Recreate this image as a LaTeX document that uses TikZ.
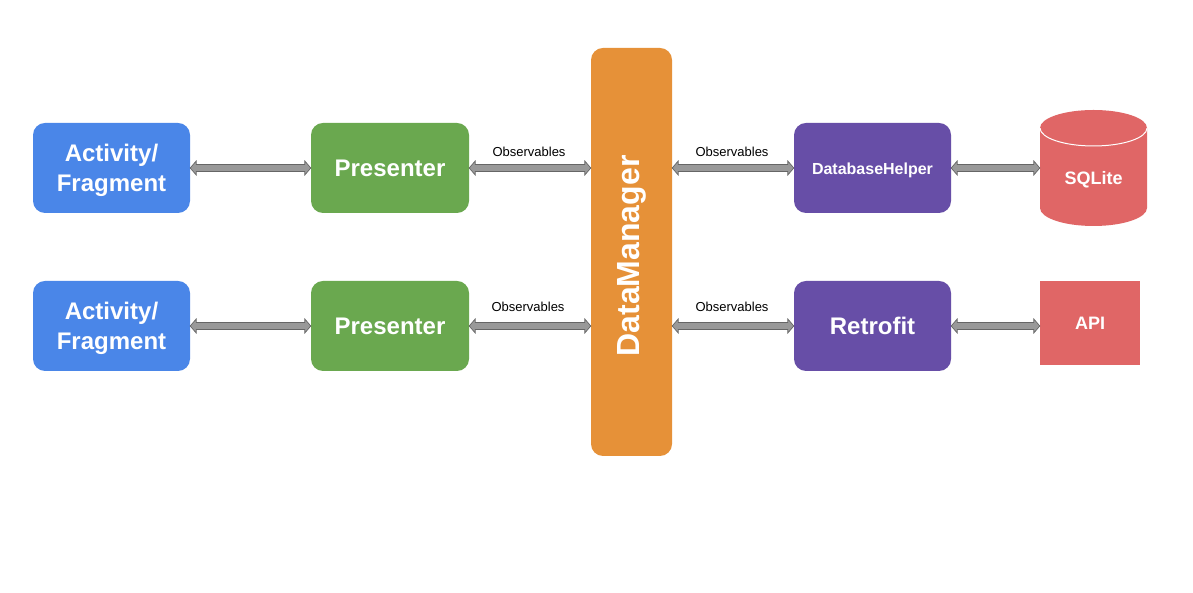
\documentclass[tikz,border=0pt]{standalone}
\usepackage{fontspec}
\setmainfont{Liberation Sans}
\usetikzlibrary{calc}
\definecolor{cblue}{HTML}{4A86E8}
\definecolor{cgreen}{HTML}{6AA84F}
\definecolor{corange}{HTML}{E69138}
\definecolor{cpurple}{HTML}{674EA7}
\definecolor{cred}{HTML}{E06666}
\definecolor{arrfill}{HTML}{999999}
\definecolor{arrdraw}{HTML}{666666}
\tikzset{
  box/.style={rounded corners=12pt, draw=none, inner sep=0pt, align=center, text=white,
    font=\fontsize{24}{28}\selectfont\bfseries},
  dbl/.style={fill=arrfill, draw=arrdraw, line width=0.7pt, line join=miter},
  obs/.style={font=\fontsize{13}{15}\selectfont, text=black, inner sep=0pt}
}
\newcommand\twolines[2]{\raisebox{-3pt}[\height][\depth]{\fontsize{24}{30}\selectfont\begin{tabular}{@{}c@{}}#1\\#2\end{tabular}}}
\newcommand\dblarrow[3]{%
  \path[dbl] let \p1=(#1.east), \p2=(#2.west), \p3=(#3.center) in
    (\x1,\y3) -- (\x1+6pt,\y3+7pt) -- (\x1+6pt,\y3+3.5pt) -- (\x2-6pt,\y3+3.5pt)
    -- (\x2-6pt,\y3+7pt) -- (\x2,\y3) -- (\x2-6pt,\y3-7pt) -- (\x2-6pt,\y3-3.5pt)
    -- (\x1+6pt,\y3-3.5pt) -- (\x1+6pt,\y3-7pt) -- cycle;}
\begin{document}
\begin{tikzpicture}[x=1pt,y=1pt]
\useasboundingbox[fill=white] (0,0) rectangle (1193,593);
% boxes
\node[box, fill=cblue, minimum width=157pt, minimum height=90pt] (act1) at (111.5,425) {\twolines{Activity/}{Fragment}};
\node[box, fill=cblue, minimum width=157pt, minimum height=90pt] (act2) at (111.5,267) {\twolines{Activity/}{Fragment}};
\node[box, fill=cgreen, minimum width=158pt, minimum height=90pt] (pre1) at (390,425) {Presenter};
\node[box, fill=cgreen, minimum width=158pt, minimum height=90pt] (pre2) at (390,267) {Presenter};
\node[box, fill=corange, minimum width=81pt, minimum height=408pt] (dm) at (631.5,341) {};
\node[text=white, font=\fontsize{32}{36}\selectfont\bfseries, rotate=90, inner sep=0pt] (dmtext) at (631.5,337) {DataManager};
\node[box, fill=cpurple, minimum width=157pt, minimum height=90pt, font=\fontsize{16}{19}\selectfont\bfseries] (dbh) at (872.5,425) {\raisebox{-2pt}[\height][\depth]{DatabaseHelper}};
\node[box, fill=cpurple, minimum width=157pt, minimum height=90pt] (ret) at (872.5,267) {Retrofit};
% SQLite cylinder
\node[inner sep=0pt, minimum width=107pt, minimum height=116pt] (sql) at (1093.5,425) {};
\fill[cred] (1040,465) -- (1040,385) arc[start angle=180, end angle=360, x radius=53.5pt, y radius=18pt]
  -- (1147,465) arc[start angle=0, end angle=180, x radius=53.5pt, y radius=18pt] -- cycle;
\draw[white, line width=1pt] (1040,465) arc[start angle=180, end angle=360, x radius=53.5pt, y radius=18pt];
\node[text=white, font=\fontsize{18}{21}\selectfont\bfseries, inner sep=0pt] (sqltext) at (1093.5,413) {SQLite};
\node[fill=cred, minimum width=100pt, minimum height=84pt, inner sep=0pt, text=white,
  font=\fontsize{18}{21}\selectfont\bfseries] (api) at (1090,270) {API};
% arrows
\dblarrow{act1}{pre1}{act1}
\dblarrow{act2}{pre2}{act2}
\dblarrow{pre1}{dm}{pre1}
\dblarrow{pre2}{dm}{pre2}
\dblarrow{dm}{dbh}{dbh}
\dblarrow{dm}{ret}{ret}
\dblarrow{dbh}{sql}{dbh}
\dblarrow{ret}{api}{ret}
% labels
\node[obs] (o1) at (529,441) {Observables};
\node[obs] (o2) at (732,441) {Observables};
\node[obs] (o3) at (528,286) {Observables};
\node[obs] (o4) at (732,286) {Observables};
\end{tikzpicture}
\end{document}
